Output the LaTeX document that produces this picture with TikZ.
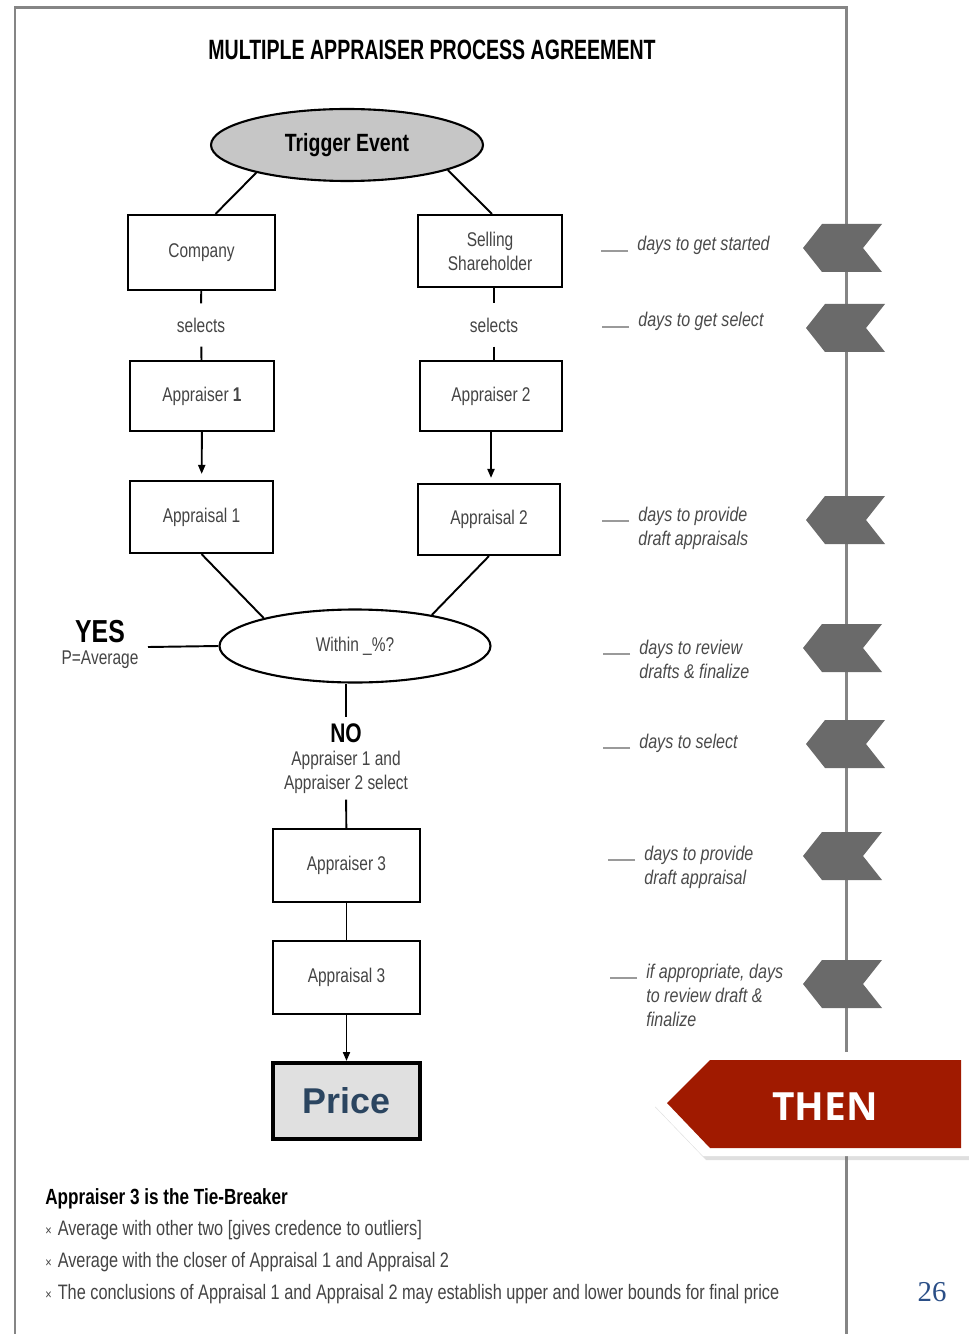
\documentclass[tikz,border=0pt]{standalone}
\usepackage{fontspec}
\setmainfont{Liberation Sans}
\newfontfamily\narrowsf[FakeStretch=0.78]{Liberation Sans}
\newfontfamily\notesf[FakeStretch=0.81]{Liberation Sans}
\newfontfamily\titlesf[FakeStretch=0.70]{Liberation Sans}
\newfontfamily\thenfont{Open Sans}
\newfontfamily\pagefont{Liberation Serif}
\usetikzlibrary{shapes.geometric,arrows.meta,shadows}

\definecolor{txtgray}{HTML}{444444}
\definecolor{notegray}{HTML}{4A4A4A}
\definecolor{dashgray}{HTML}{9A9A9A}
\definecolor{framegray}{HTML}{858585}
\definecolor{chevgray}{HTML}{6A6A6A}
\definecolor{eventgray}{HTML}{C6C6C6}
\definecolor{pricefill}{HTML}{E0E0E0}
\definecolor{priceblue}{HTML}{2B4560}
\definecolor{thenred}{HTML}{A01A00}
\definecolor{pageblue}{HTML}{2A4E86}

\newcommand\boxfont{\narrowsf\fontsize{11.3pt}{13.6pt}\selectfont}
\newcommand\notefont{\notesf\itshape\fontsize{11.3pt}{13.6pt}\selectfont}
\newcommand\footfont{\narrowsf\fontsize{11.9pt}{13.6pt}\selectfont}
\newcommand\bul{{\fontsize{8pt}{8pt}\selectfont ×}\hspace{0.12cm}}

\begin{document}
\begin{tikzpicture}[x=0.02cm,y=-0.02cm,
  box/.style={draw,line width=1.2pt,minimum width=2.9cm,minimum height=1.44cm,
    inner sep=0pt,align=center,font=\boxfont,text=txtgray},
  oval/.style={ellipse,draw,line width=1.2pt,minimum width=5.42cm,
    minimum height=1.46cm,inner sep=0pt},
  link/.style={line width=1.1pt},
  arr/.style={line width=1.1pt,-{Triangle[length=0.18cm,width=0.14cm]}},
  note/.style={anchor=base west,inner sep=0pt,align=left,font=\notefont,text=notegray},
  notedash/.style={draw=dashgray,line width=1.2pt},
  foot/.style={anchor=base west,inner sep=0pt,font=\footfont,text=txtgray}]

\useasboundingbox (0,0) rectangle (969,1334);

\draw[framegray,line width=1.7pt] (15,1334) -- (15,8) -- (846,8) -- (846,1334);

\node (title) at (432,50) {\titlesf\bfseries\fontsize{15.9pt}{18pt}\selectfont MULTIPLE APPRAISER PROCESS AGREEMENT};

\node[oval,fill=eventgray,minimum width=5.44cm,minimum height=1.44cm,
  font=\narrowsf\bfseries\fontsize{14.2pt}{16pt}\selectfont] (trigger) at (347,145) {Trigger Event};

\node[box,minimum width=2.94cm,minimum height=1.5cm] (company) at (201.5,252.5) {Company};
\node[box,minimum width=2.88cm] (seller) at (490,251) {Selling\\Shareholder};

\node[font=\boxfont,text=txtgray,inner ysep=0.28cm] (sel1) at (201,325) {selects};
\node[font=\boxfont,text=txtgray,inner ysep=0.28cm] (sel2) at (494,325) {selects};

\node[box,minimum width=2.88cm,minimum height=1.4cm] (appr1) at (202,396) {Appraiser \textbf{1}};
\node[box,minimum width=2.84cm,minimum height=1.4cm] (appr2) at (491,396) {Appraiser 2};

\node[box,minimum width=2.86cm] (apl1) at (201.5,517) {Appraisal 1};
\node[box,minimum width=2.84cm,minimum height=1.42cm] (apl2) at (489,519.5) {Appraisal 2};

\node[oval,fill=white,font=\boxfont,text=txtgray] (within) at (355,646) {Within \_\%?};

\node[font=\narrowsf\bfseries\fontsize{18.1pt}{20pt}\selectfont] (yes) at (100,632) {YES};
\node[font=\boxfont,text=txtgray] (pavg) at (100,660) {P=Average};
\coordinate (yesend) at (148,647);

\node[font=\narrowsf\bfseries\fontsize{15.3pt}{17pt}\selectfont] (no) at (346,733) {NO};
\node[font=\boxfont,text=txtgray,align=center,inner sep=0.12cm] (noline) at (346,772) {Appraiser 1 and\\Appraiser 2 select};

\node[box,minimum width=2.94cm,minimum height=1.46cm] (appr3) at (346.5,865.5) {Appraiser 3};
\node[box,minimum width=2.94cm,minimum height=1.46cm] (apl3) at (346.5,977.5) {Appraisal 3};
\node[box,minimum width=2.94cm,minimum height=1.52cm,line width=2.3pt,fill=pricefill,
  text=priceblue,font=\bfseries\fontsize{20.4pt}{22pt}\selectfont] (price) at (346.5,1101) {Price};

\draw[link] (trigger.197) -- ([xshift=0.28cm]company.north);
\draw[link] (trigger.346) -- ([xshift=0.04cm]seller.north);
\draw[link] (company) -- (sel1) -- (appr1);
\draw[link] (seller.south -| sel2) -- (sel2) -- (sel2 |- appr2.north);
\draw[arr,shorten >=0.12cm] (appr1) -- (apl1);
\draw[arr,shorten >=0.1cm] (appr2.south) -- (appr2.south |- apl2.north);
\draw[link] (apl1.south) -- (within.163);
\draw[link] (apl2.south) -- (within.22);
\draw[link] (within.west) -- (yesend);
\draw[link] (within.south -| no) -- (no);
\draw[link] (noline) -- (appr3);
\draw[link] (appr3) -- (apl3);
\draw[arr] (apl3) -- (price);

\node[note] (n1) at (637,251) {days to get started};
\node[note] (n2) at (638,327) {days to get select};
\node[note] (n3) at (638,545) {days to provide\\draft appraisals};
\node[note] (n4) at (639,678) {days to review\\drafts \& finalize};
\node[note] (n5) at (639,748) {days to select};
\node[note] (n6) at (644,884) {days to provide\\draft appraisal};
\node[note] (n7) at (646,1026) {if appropriate, days\\to review draft \&\\finalize};
\foreach \n/\k in {n1/0,n2/0,n3/1,n4/1,n5/0,n6/1,n7/2}
  \draw[notedash] ([xshift=-0.18cm,yshift=\k*0.48cm]\n.base west) -- ++(-0.54cm,0);

\foreach \cx/\cy in {803/248,806/328,806/520,803/648,806/744,803/856,803/984}
  \fill[chevgray] (\cx,\cy) -- ++(19,-24) -- ++(60,0) -- ++(-19,24) -- ++(19,24) -- ++(-60,0) -- cycle;

\fill[white,drop shadow={shadow xshift=0.06cm,shadow yshift=-0.08cm,opacity=0.25}]
  (652,1103) -- (703,1052) -- (969,1052) -- (969,1156) -- (703,1156) -- cycle;
\fill[thenred] (667,1103) -- (710,1060) -- (961,1060) -- (961,1148) -- (710,1148) -- cycle;
\node[text=white,font=\thenfont\bfseries\fontsize{22.1pt}{24pt}\selectfont] (then) at (825,1107) {THEN};

\node[foot,font=\narrowsf\bfseries\fontsize{12.5pt}{14pt}\selectfont,text=black] (tie) at (45,1204) {Appraiser 3 is the Tie-Breaker};
\node[foot] (b1) at (45,1235) {\bul Average with other two [gives credence to outliers]};
\node[foot] (b2) at (45,1267) {\bul Average with the closer of Appraisal 1 and Appraisal 2};
\node[foot] (b3) at (45,1299) {\bul The conclusions of Appraisal 1 and Appraisal 2 may establish upper and lower bounds for final price};

\node[text=pageblue,font=\pagefont\fontsize{16.4pt}{18pt}\selectfont] (page) at (932,1292) {26};
\end{tikzpicture}
\end{document}
